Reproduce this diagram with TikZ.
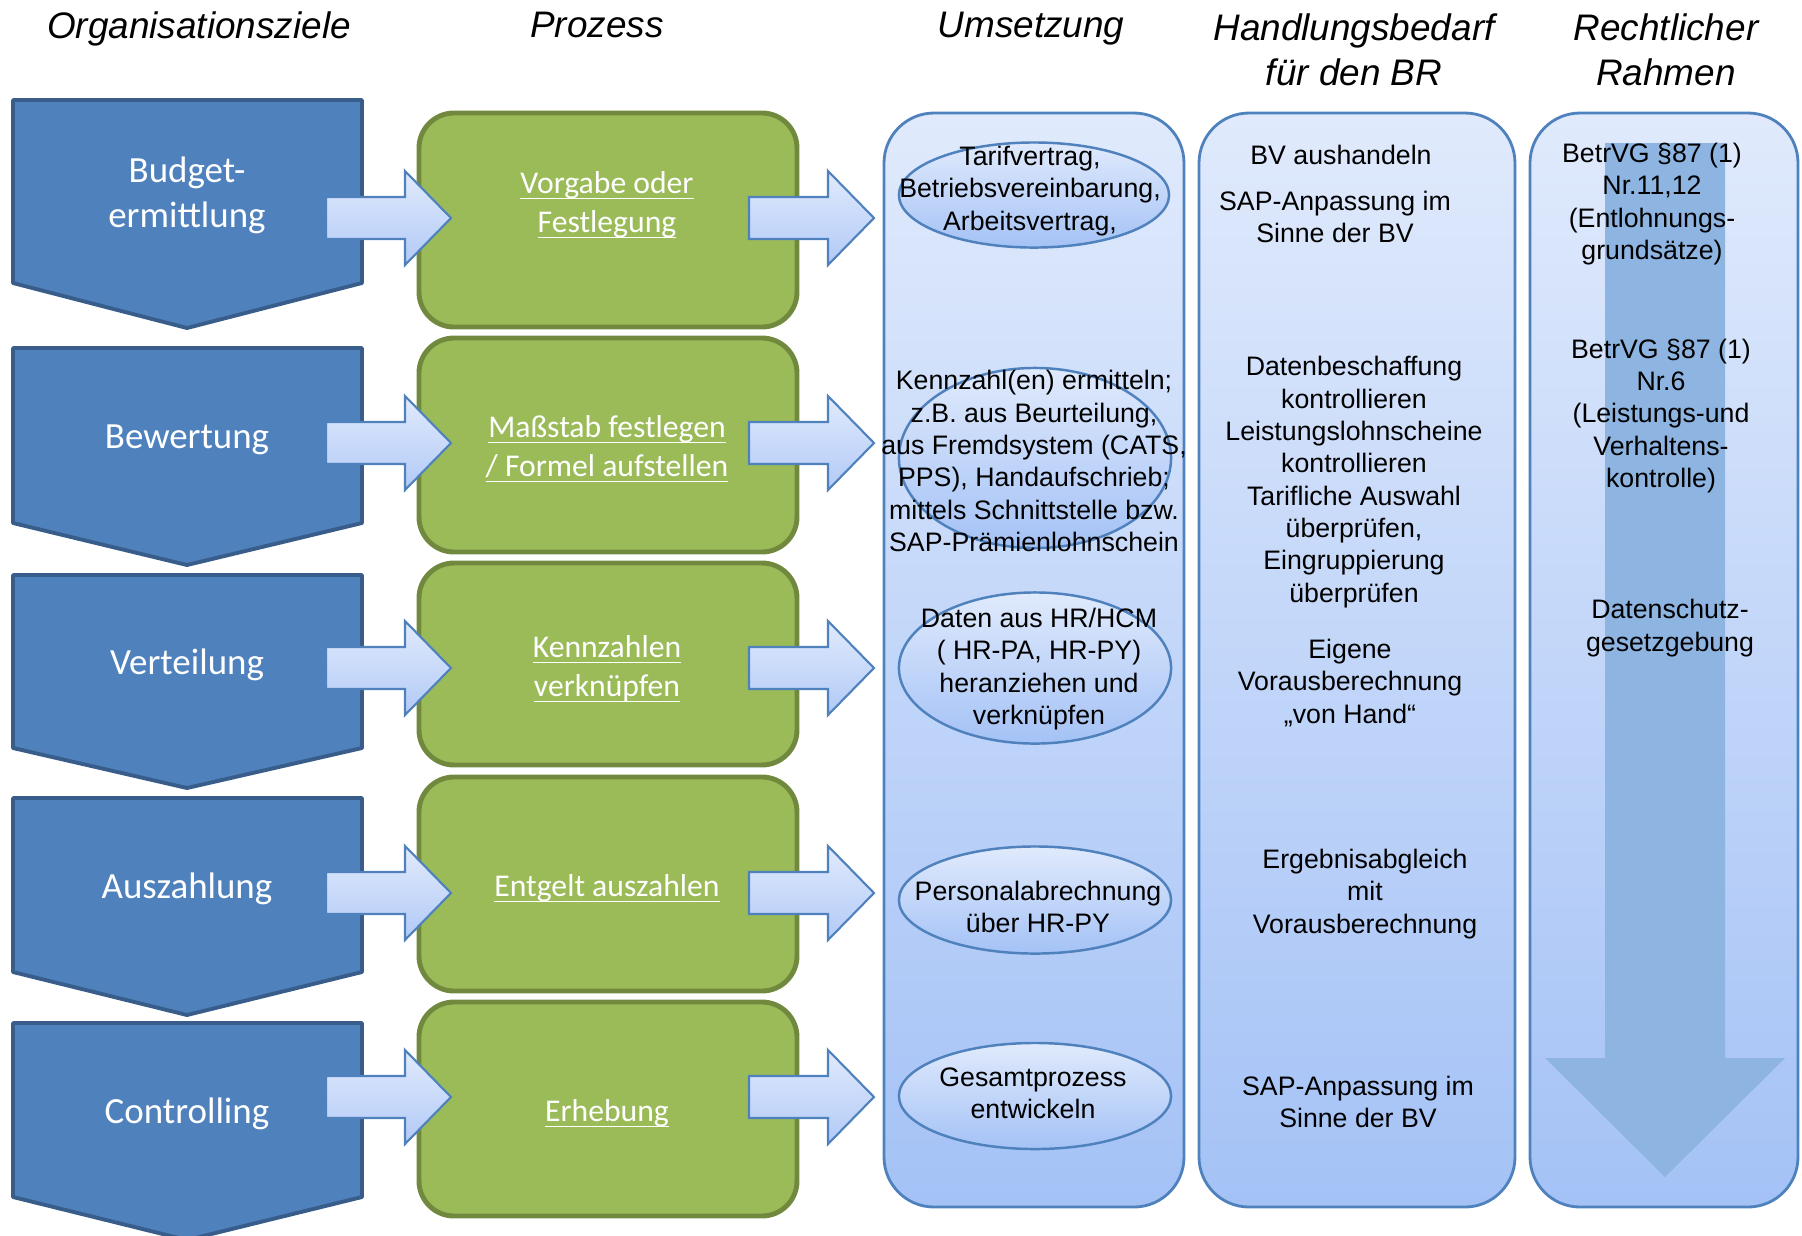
\documentclass[tikz,border=0pt]{standalone}
\usepackage{fontspec}
\setmainfont{Liberation Sans}
\newfontfamily\calfont{Carlito}
\usetikzlibrary{shapes.geometric}

\definecolor{zielblau}{HTML}{4F81BD}
\definecolor{zielrand}{HTML}{385D8A}
\definecolor{prozgruen}{HTML}{9BBB59}
\definecolor{prozrand}{HTML}{71893F}
\definecolor{helloben}{RGB}{224,234,252}
\definecolor{hellunten}{RGB}{164,194,246}
\definecolor{pfeilunten}{RGB}{178,202,247}
\definecolor{rahmenpfeil}{RGB}{142,180,226}
\newcommand{\unterstr}[1]{\underline{\smash{#1}}\strut}

\begin{document}
\begin{tikzpicture}[x=0.01cm,y=-0.01cm,
    kopf/.style={font=\fontsize{10.5}{12.8}\selectfont\itshape, align=center},
    ziel/.style={draw=zielrand, line width=1.1pt, fill=zielblau, line join=round},
    ziellabel/.style={text=white, font=\calfont\fontsize{10.5}{12.8}\selectfont, align=center},
    proz/.style={draw=prozrand, line width=1.4pt, fill=prozgruen, rounded corners=0.35cm},
    prozlabel/.style={text=white, font=\calfont\fontsize{9}{11.1}\selectfont, align=center},
    blockpfeil/.style={draw=zielblau, line width=0.6pt, top color=helloben, bottom color=pfeilunten},
    spalte/.style={draw=zielblau, line width=0.8pt, top color=helloben, bottom color=hellunten, rounded corners=0.5cm},
    oval/.style={ellipse, draw=zielblau, line width=0.7pt, top color=helloben, bottom color=hellunten, inner sep=0pt},
    txt/.style={font=\fontsize{7.6}{9.2}\selectfont, align=center}]
  \useasboundingbox (0,0) rectangle (1802,1235);

  % Ueberschriften
  \node[kopf] (hziel) at (199,29) {Organisationsziele};
  \node[kopf] (hproz) at (597,25) {Prozess};
  \node[kopf] (humsetz) at (1031,29) {Umsetzung};
  \node[kopf] (hbedarf) at (1354,50) {Handlungsbedarf\\für den BR};
  \node[kopf] (hrecht) at (1666,50) {Rechtlicher\\Rahmen};

  % Organisationsziele
  \foreach \t/\b/\s in {100/283/328, 348/523/565, 575/748/788, 798/972/1015, 1023/1197/1240}
    \draw[ziel] (13,\t) -- (362,\t) -- (362,\b) -- (187,\s) -- (13,\b) -- cycle;
  \node[ziellabel] (budget) at (187,195) {Budget-\\ermittlung};
  \node[ziellabel] (bewert) at (187,440) {Bewertung};
  \node[ziellabel] (verteil) at (187,665) {Verteilung};
  \node[ziellabel] (auszahl) at (187,889) {Auszahlung};
  \node[ziellabel] (control) at (187,1114) {Controlling};

  % Prozess
  \foreach \t/\b in {113/327, 338/552, 563/765, 777/991, 1002/1216}
    \draw[proz] (419,\t) rectangle (797,\b);
  \node[prozlabel] (vorgabe) at (607,205) {\unterstr{Vorgabe oder}\\\unterstr{Festlegung}};
  \node[prozlabel] (massstab) at (607,449) {\unterstr{Maßstab festlegen}\\\unterstr{/ Formel aufstellen}};
  \node[prozlabel] (kennz) at (607,669) {\unterstr{Kennzahlen}\\\unterstr{verknüpfen}};
  \node[prozlabel] (entgelt) at (607,889) {\unterstr{Entgelt auszahlen}};
  \node[prozlabel] (erheb) at (607,1114) {\unterstr{Erhebung}};

  % Spalten
  \draw[spalte] (884,113) rectangle (1184,1207);
  \draw[spalte] (1199,113) rectangle (1515,1207);
  \draw[spalte] (1530,113) rectangle (1798,1207);
  \fill[rahmenpfeil] (1605,143) -- (1725,143) -- (1725,1058) -- (1785,1058)
    -- (1665,1177) -- (1545,1058) -- (1605,1058) -- cycle;

  % Blockpfeile
  \foreach \c in {218,443,668,893,1097}
    \foreach \a in {326,749}
      \draw[blockpfeil] (\a,{\c-21}) -- ({\a+79},{\c-21}) -- ({\a+79},{\c-47}) -- ({\a+125},\c)
        -- ({\a+79},{\c+47}) -- ({\a+79},{\c+21}) -- (\a,{\c+21}) -- cycle;

  % Umsetzung
  \node[oval, minimum width=2.70cm, minimum height=1.05cm] (ov1) at (1034,195) {};
  \node[oval, minimum width=2.72cm, minimum height=1.80cm] (ov2) at (1035,458) {};
  \node[oval, minimum width=2.72cm, minimum height=1.51cm] (ov3) at (1035,668) {};
  \node[oval, minimum width=2.72cm, minimum height=1.07cm] (ov4) at (1035,900) {};
  \node[oval, minimum width=2.72cm, minimum height=1.06cm] (ov5) at (1035,1096) {};
  \node[txt] (um1) at (1030,191) {Tarifvertrag,\\Betriebsvereinbarung,\\Arbeitsvertrag,};
  \node[txt] (um2) at (1034,461) {Kennzahl(en) ermitteln;\\z.B. aus Beurteilung,\\aus Fremdsystem (CATS,\\PPS), Handaufschrieb;\\mittels Schnittstelle bzw.\\SAP-Prämienlohnschein};
  \node[txt] (um3) at (1039,669) {Daten aus HR/HCM\\( HR-PA, HR-PY)\\heranziehen und\\verknüpfen};
  \node[txt] (um4) at (1038,907) {Personalabrechnung\\über HR-PY};
  \node[txt] (um5) at (1033,1093) {Gesamtprozess\\entwickeln};

  % Handlungsbedarf
  \node[txt] (bd1) at (1341,155) {BV aushandeln};
  \node[txt] (bd2) at (1335,217) {SAP-Anpassung im\\Sinne der BV};
  \node[txt] (bd3) at (1354,482) {Datenbeschaffung\\kontrollieren\\Leistungslohnscheine\\kontrollieren\\Tarifliche Auswahl\\überprüfen,\\Eingruppierung\\überprüfen};
  \node[txt] (bd4) at (1350,683) {Eigene\\Vorausberechnung\\„von Hand“};
  \node[txt] (bd5) at (1365,894) {Ergebnisabgleich\\mit\\Vorausberechnung};
  \node[txt] (bd6) at (1358,1102) {SAP-Anpassung im\\Sinne der BV};

  % Rechtlicher Rahmen
  \node[txt] (re1) at (1652,204) {BetrVG §87 (1)\\Nr.11,12\\(Entlohnungs-\\grundsätze)};
  \node[txt] (re2) at (1661,416) {BetrVG §87 (1)\\Nr.6\\(Leistungs-und\\Verhaltens-\\kontrolle)};
  \node[txt] (re3) at (1670,628) {Datenschutz-\\gesetzgebung};
\end{tikzpicture}
\end{document}
